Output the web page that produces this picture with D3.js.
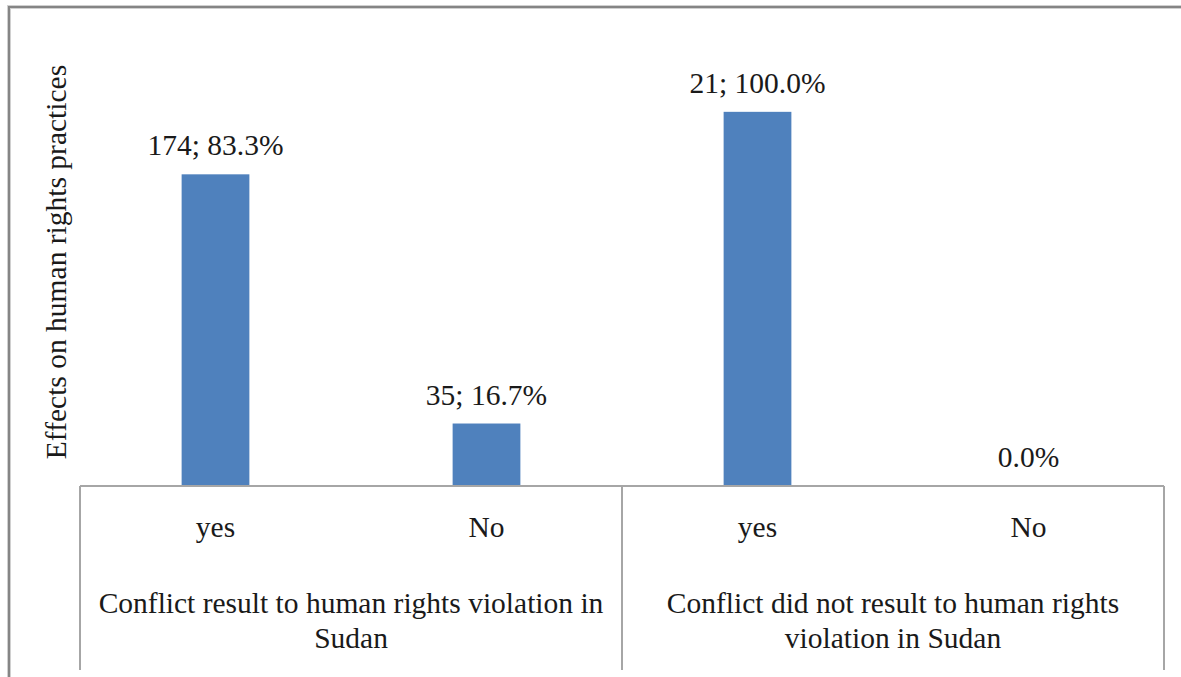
<!DOCTYPE html>
<html>
<head>
<meta charset="utf-8">
<script src="https://cdn.jsdelivr.net/npm/d3@7"></script>
<style>
  html, body { margin: 0; padding: 0; background: #fff; }
  svg { display: block; }
  text { font-family: "Liberation Serif", "Times New Roman", serif; }
</style>
</head>
<body>
<svg id="chart" width="1181" height="677"></svg>
<script>
// Responses grouped by whether the conflict led to human rights violations
const groups = [
  ["Conflict result to human rights violation in", "Sudan"],
  ["Conflict did not result to human rights", "violation in Sudan"]
];
const answers = ["yes", "No", "yes", "No"];
const counts = [174, 35, 21, 0];
const percents = [83.3, 16.7, 100.0, 0.0];
const valueLabels = ["174; 83.3%", "35; 16.7%", "21; 100.0%", "0.0%"];
const yAxisTitle = "Effects on human rights practices";

const FS = 29.5;
const textColor = "#1a1a1a";

const svg = d3.select("#chart");
const W = 1181, H = 677;
const plot = { left: 80, right: 1164, top: 37, bottom: 486 };

const x = d3.scaleBand()
  .domain(d3.range(answers.length))
  .range([plot.left, plot.right])
  .paddingInner(0.75)
  .paddingOuter(0.375);

const y = d3.scaleLinear()
  .domain([0, 120])
  .range([plot.bottom, plot.top]);

// outer chart frame (top and left edges)
svg.append("path")
  .attr("d", `M9,${H} V7 H${W}`)
  .attr("fill", "none")
  .attr("stroke", "#d0d0d0")
  .attr("stroke-width", 4);
svg.append("path")
  .attr("d", `M9,${H} V7 H${W}`)
  .attr("fill", "none")
  .attr("stroke", "#858585")
  .attr("stroke-width", 2);

// bars
svg.append("g").selectAll("rect")
  .data(percents)
  .join("rect")
  .attr("x", (d, i) => x(i))
  .attr("y", d => y(d))
  .attr("width", x.bandwidth())
  .attr("height", d => y(0) - y(d))
  .attr("fill", "#4f81bd");

// value labels above bars
svg.append("g").selectAll("text")
  .data(percents)
  .join("text")
  .attr("x", (d, i) => x(i) + x.bandwidth() / 2)
  .attr("y", d => y(d) - 19)
  .attr("text-anchor", "middle")
  .attr("font-size", FS)
  .attr("fill", textColor)
  .text((d, i) => valueLabels[i]);

// category axis: baseline and group separators
const axisColor = "#a6a6a6";
const axisBottom = 670;
const groupEdges = [plot.left, (plot.left + plot.right) / 2, plot.right];
svg.append("line")
  .attr("x1", plot.left).attr("x2", plot.right)
  .attr("y1", plot.bottom).attr("y2", plot.bottom)
  .attr("stroke", axisColor).attr("stroke-width", 2);
svg.append("g").selectAll("line")
  .data(groupEdges)
  .join("line")
  .attr("x1", d => d).attr("x2", d => d)
  .attr("y1", plot.bottom).attr("y2", axisBottom)
  .attr("stroke", axisColor).attr("stroke-width", 2);

// answer labels
svg.append("g").selectAll("text")
  .data(answers)
  .join("text")
  .attr("x", (d, i) => x(i) + x.bandwidth() / 2)
  .attr("y", 537)
  .attr("text-anchor", "middle")
  .attr("font-size", FS)
  .attr("fill", textColor)
  .text(d => d);

// group labels (two lines each)
groups.forEach((lines, g) => {
  const cx = (groupEdges[g] + groupEdges[g + 1]) / 2;
  const t = svg.append("text")
    .attr("x", cx)
    .attr("y", 613)
    .attr("text-anchor", "middle")
    .attr("font-size", FS)
    .attr("fill", textColor);
  lines.forEach((line, k) => {
    t.append("tspan")
      .attr("x", cx)
      .attr("dy", k === 0 ? 0 : 35)
      .text(line);
  });
});

// vertical axis title
svg.append("text")
  .attr("transform", `translate(66,262) rotate(-90)`)
  .attr("text-anchor", "middle")
  .attr("font-size", FS)
  .attr("fill", textColor)
  .text(yAxisTitle);
</script>
</body>
</html>
